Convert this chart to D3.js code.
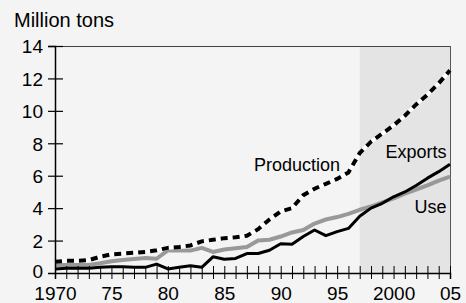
<!DOCTYPE html>
<html><head><meta charset="utf-8">
<script src="https://cdn.jsdelivr.net/npm/d3@7"></script>
<style>
html,body{margin:0;padding:0;background:#f4f4f4;}
svg{display:block;}
text{font-family:"Liberation Sans",Arial,sans-serif;fill:#000;}
</style></head>
<body>
<svg id="chart" width="466" height="303"></svg>
<script>
const years = d3.range(1970, 2006);
const production = [0.7,0.75,0.75,0.8,1.0,1.15,1.2,1.25,1.3,1.4,1.55,1.6,1.7,1.95,2.05,2.15,2.2,2.3,2.7,3.3,3.8,4.0,4.8,5.2,5.5,5.8,6.2,7.4,8.1,8.6,9.1,9.7,10.4,11.0,11.7,12.5];
const exportsV = [0.25,0.3,0.3,0.3,0.35,0.38,0.38,0.35,0.35,0.55,0.25,0.35,0.45,0.35,1.0,0.85,0.9,1.2,1.2,1.4,1.8,1.78,2.25,2.65,2.3,2.55,2.75,3.5,4.0,4.3,4.7,5.0,5.4,5.85,6.25,6.7];
const useV = [0.5,0.5,0.5,0.5,0.6,0.72,0.8,0.86,0.92,0.88,1.4,1.38,1.38,1.55,1.3,1.45,1.52,1.6,2.0,2.05,2.25,2.5,2.65,3.05,3.3,3.45,3.65,3.9,4.1,4.35,4.6,4.9,5.15,5.4,5.7,5.95];
const yTicks = [0,2,4,6,8,10,12,14];
const xLabels = {1970:"1970",1975:"75",1980:"80",1985:"85",1990:"90",1995:"95",2000:"2000",2005:"05"};
const shadeStart = 1997;
const unitLabel = "Million tons";
const seriesLabels = [
  {name:"Production", year:1995.25, value:6.3, anchor:"end"},
  {name:"Exports", year:2004.7, value:7.1, anchor:"end"},
  {name:"Use", year:2004.7, value:3.70, anchor:"end"}
];

const svg = d3.select("#chart");
const x = d3.scaleLinear().domain([1970, 2005]).range([55, 450]);
const y = d3.scaleLinear().domain([0, 14]).range([273, 46]);

svg.append("rect").attr("width",466).attr("height",303).attr("fill","#f4f4f4");
svg.append("rect").attr("x",x(shadeStart)).attr("y",y(14))
  .attr("width",x(2005)-x(shadeStart)).attr("height",y(0)-y(14)).attr("fill","#e4e4e4");

// frame
svg.append("line").attr("x1",x(1970)).attr("x2",x(2005)).attr("y1",y(14)+0.5).attr("y2",y(14)+0.5)
  .attr("stroke","#444").attr("stroke-width",1);
svg.append("line").attr("x1",x(2005)+0.5).attr("x2",x(2005)+0.5).attr("y1",y(14)).attr("y2",y(0))
  .attr("stroke","#555").attr("stroke-width",1);

const line = d3.line().x((d,i)=>x(years[i])).y(d=>y(d));

svg.append("path").datum(useV).attr("d",line).attr("fill","none")
  .attr("stroke","#999").attr("stroke-width",4).attr("stroke-linejoin","round");
svg.append("path").datum(exportsV).attr("d",line).attr("fill","none")
  .attr("stroke","#000").attr("stroke-width",3).attr("stroke-linejoin","round");
svg.append("path").datum(production).attr("d",line).attr("fill","none")
  .attr("stroke","#fff").attr("stroke-width",4);
svg.append("path").datum(production).attr("d",line).attr("fill","none")
  .attr("stroke","#000").attr("stroke-width",4).attr("stroke-dasharray","7,5");

// y axis
const yAxis = d3.axisLeft(y).tickValues(yTicks).tickSize(7).tickFormat(d3.format("d"));
const gy = svg.append("g").attr("transform",`translate(${x(1970)},0)`).call(yAxis);
gy.select(".domain").attr("stroke","#000").attr("stroke-width",1.5);
gy.selectAll(".tick line").attr("x1",8).attr("x2",-7).attr("stroke","#000").attr("stroke-width",1.2);
gy.selectAll(".tick").filter(d=>d===0).select("line").remove();
gy.selectAll(".tick text").attr("x",-12).attr("dy",d=>d===0?"0.26em":"0.36em")
  .style("font-family","'Liberation Sans',Arial,sans-serif").style("font-size","19px").attr("fill","#000");

// x axis
const xAxis = d3.axisBottom(x).tickValues(years).tickSize(6).tickFormat(d=>xLabels[d]||"");
const gx = svg.append("g").attr("transform",`translate(0,${y(0)})`).call(xAxis);
gx.select(".domain").attr("stroke","#000").attr("stroke-width",1.5);
gx.selectAll(".tick line").attr("y1",-7).attr("y2",6).attr("stroke","#000").attr("stroke-width",1);
gx.selectAll(".tick text").attr("y",27).attr("dy",null)
  .style("font-family","'Liberation Sans',Arial,sans-serif").style("font-size","19px").attr("fill","#000");

svg.append("text").attr("x",14).attr("y",27).style("font-size","20px").text(unitLabel);

svg.selectAll(".slabel").data(seriesLabels).enter().append("text")
  .attr("class","slabel")
  .attr("x",d=>x(d.year)).attr("y",d=>y(d.value))
  .attr("text-anchor",d=>d.anchor).style("font-size","18px").text(d=>d.name);
</script>
</body></html>
